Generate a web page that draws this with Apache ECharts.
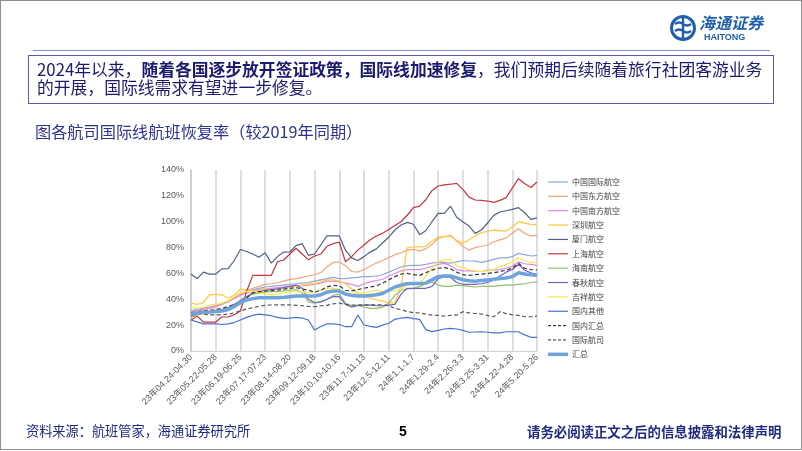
<!DOCTYPE html>
<html><head><meta charset="utf-8">
<script src="https://cdn.jsdelivr.net/npm/echarts@6/dist/echarts.min.js"></script>
<style>
html,body{margin:0;padding:0;width:802px;height:451px;overflow:hidden;background:#fff;font-family:"Noto Sans CJK SC",sans-serif;}
#chart{position:absolute;left:0;top:0;width:802px;height:451px;}
.abs{position:absolute;white-space:nowrap;}
</style></head><body>
<div id="chart"></div>
<div class="abs" style="left:0;top:0;width:800px;height:448px;border:1px solid #8f8f8f;"></div>
<svg class="abs" style="left:669px;top:14px" width="28" height="28" viewBox="0 0 28 28">
  <circle cx="14" cy="14" r="11.5" fill="none" stroke="#1f5fae" stroke-width="3"/>
  <path d="M14 3 V25 M6 10 Q10 7 14 10 Q18 13 22 10 M6 17 Q10 14 14 17 Q18 20 22 17" fill="none" stroke="#1f5fae" stroke-width="2.4"/>
</svg>
<div class="abs" style="left:699px;top:13px;font-size:16px;font-weight:bold;font-style:italic;color:#1f5fae;line-height:18px;">海通证券</div>
<div class="abs" style="left:704px;top:32px;font-size:9px;font-weight:bold;color:#1f5fae;font-family:'Liberation Sans',Arial;line-height:10px;">HAITONG</div>
<div class="abs" style="left:33px;top:50px;width:737px;height:0;border-top:1.5px solid #8a8ac8;"></div>
<div class="abs" style="left:28px;top:55px;width:744px;height:47px;border:1.5px solid #5a5aa8;"></div>
<div class="abs" style="left:37px;top:60px;font-size:16.8px;line-height:19px;color:#1a1a70;">2024年以来，<b>随着各国逐步放开签证政策，国际线加速修复</b>，我们预期后续随着旅行社团客游业务</div>
<div class="abs" style="left:37px;top:78px;font-size:16.8px;line-height:19px;color:#1a1a70;">的开展，国际线需求有望进一步修复。</div>
<div class="abs" style="left:35px;top:122px;font-size:16.2px;line-height:19px;color:#2e3390;">图各航司国际线航班恢复率（较2019年同期）</div>
<div class="abs" style="left:26px;top:423px;font-size:13.2px;line-height:16px;color:#1f2a80;">资料来源：航班管家，海通证券研究所</div>
<div class="abs" style="left:399px;top:423px;font-size:14px;line-height:16px;font-weight:bold;color:#000;font-family:'Liberation Sans',Arial;">5</div>
<div class="abs" style="left:527px;top:423px;font-size:13.4px;line-height:16px;font-weight:bold;color:#1f2a80;">请务必阅读正文之后的信息披露和法律声明</div>
<script>
const weeks = ['23年04.24-04.30','23年05.01-05.07','23年05.08-05.14','23年05.15-05.21','23年05.22-05.28','23年05.29-06.04','23年06.05-06.11','23年06.12-06.18','23年06.19-06.25','23年06.26-07.02','23年07.03-07.09','23年07.10-07.16','23年07.17-07.23','23年07.24-07.30','23年07.31-08.06','23年08.07-08.13','23年08.14-08.20','23年08.21-08.27','23年08.28-09.03','23年09.04-09.10','23年09.12-09.18','23年09.19-09.25','23年09.26-10.02','23年10.03-10.09','23年10.10-10.16','23年10.17-10.23','23年10.24-10.30','23年10.31-11.06','23年11.7-11.13','23年11.14-11.20','23年11.21-11.27','23年11.28-12.4','23年12.5-12.11','23年12.12-12.18','23年12.19-12.25','23年12.26-12.31','24年1.1-1.7','24年1.8-1.14','24年1.15-1.21','24年1.22-1.28','24年1.29-2.4','24年2.5-2.11','24年2.12-2.18','24年2.19-2.25','24年2.26-3.3','24年3.4-3.10','24年3.11-3.17','24年3.18-3.24','24年3.25-3.31','24年4.1-4.7','24年4.8-4.14','24年4.15-4.21','24年4.22-4.28','24年4.29-5.5','24年5.6-5.12','24年5.13-5.19','24年5.20-5.26'];
const yTicks = [0,20,40,60,80,100,120,140];
const names = ['中国国际航空','中国东方航空','中国南方航空','深圳航空','厦门航空','上海航空','海南航空','春秋航空','吉祥航空','国内其他','国内汇总','国际航司','汇总'];
const airChina = [31,32.5,33,34,35,36.5,38.5,41,44,46,47.5,48.5,49.5,50,50.5,51,51.5,52,52.5,53,54,55,56,57,56,56,56.5,57,57.5,57.5,58,59,61,63,65,66,66.3,66.3,67,68,68.8,68.5,68,69,70,69.6,69.5,68.5,69.5,70.9,72,72,73,75.5,74.5,73.5,74];
const chinaEastern = [30,31,32,33,34,36,38,41,44,47,48.5,50,51.5,52,52.8,54,55.4,56,57,58,59,60.6,65,68.5,68.8,66,61.5,61,63,65.5,68,70,72.2,74.5,76,78,78.6,77.5,79,82.5,87,88.5,89.5,85,81,78,80,81,82,84.5,86,87.5,91,94.6,91,89,89.5];
const chinaSouthern = [30,31.5,32.5,33.5,35,36.5,38.5,40.5,43,45,46.5,47.5,48,48.5,49,49.5,50,50.5,50.5,51,51.5,52.5,54,54,53.5,52.5,51.5,50,52,53.5,54.5,55.5,58,60,62,63,63,63,64,65.5,67,67.8,66,63,62,61.9,61.5,61.5,62.5,62.6,63,64,65.5,68.8,67.5,67,66.3];
const shenzhen = [37,36,37.5,43.5,43.8,43.5,41,43,48,47,46,47,48,47.5,48,48.5,49,50,51,52,52,53.5,55,55,54,52,48,45,43,41,39.5,38.5,37.5,37,50,80,80.5,80.5,81,85,88,88.5,89,85.5,83.3,86,89,91.5,92.5,93.6,93,92.8,96,100,99,98,97.5];
const xiamen = [59.3,56,61,59.5,59.5,63.5,63.7,70,78.5,77,75,72.5,76,68,73,76.5,76.6,81.5,83,74,75,82,89,89,89,78,72,70,73,76.5,79,83.5,88,93.6,97.5,99.5,98,90,93,100,106.5,106.5,112,103.5,100,96.7,91,93.6,99,104.9,107.5,108.5,109.6,110.9,107,101.8,103];
const shanghai = [23.7,27,22.4,22.4,22.4,26.3,26.3,28,31,46,58.5,58.5,58.5,58.5,69,70.4,75,79.5,75,70.5,73.5,75,81,83,84.3,69,73,78,82,86,89,91,94,97,100,105,110.9,112,117,124,127.6,128.5,129,129.7,125,119,116.8,116.5,116,115,116.5,118.6,126,133.3,129.5,126.5,130.7];
const hainan = [26,28,29,29.5,30,31,33,36,39,42,44,45,45.5,46,46,46.5,47,47.5,45,38,37,38,40,43,44,37,35,35.5,34,33,33,34,37,43,47,48,48.5,50,52,53.5,51,50,50,51,50.5,50,49.5,50,50,50,50.5,51,51,51.5,52,53,53.5];
const springAir = [27,29,30,30.5,31,32,33.5,36,39,42,45,46,47,47.5,48,49,50,51,48.5,40,37.5,38,40,42,42,36,34,35,35.5,35.5,35,35,35.5,36,44,48.5,48.5,48.5,48.5,50,56,57.5,57,53,51.6,51.6,51.6,52,53,55,58,61,63,67,62.5,60.5,59.3];
const juneyao = [34,33,34,35.5,36,37,39,42,45,46,46.5,45,44,43.5,44,45,46,46,45.5,45,45.5,47,48.5,48.5,48,45,44,44.5,45,46,47,46,46,46.5,48,51,51.5,52,58,64,69,70.5,70.9,66,64.5,63,62,61.5,62,63,65,67,69,72.2,70,68.5,68.3];
const domesticOther = [24,22.5,21,21,21,20.5,21,22,24,26,27.5,28.5,28,27.3,26,25.3,25.5,26,25.5,24,16.2,19,21,21,20.5,18.8,18.8,27.8,20.1,19,18.3,20,21.5,24.5,25.5,26,25,24.5,16.5,15,16,17,17.5,17,16,14.5,14.7,14.9,14.5,14,14,14.9,14.9,14.9,12.5,10.6,10.6];
const domesticTotal = [29.5,30.5,31,31.5,32,33,34.5,36,37,41,45,45.8,46.4,46.7,47,47.8,48.5,49,48,47,45.5,47,49.5,50.8,50.5,47,46.5,47.5,48.5,49.5,50.3,52.5,55,57.5,59.5,60,59,58.5,60.5,62.6,64,64.5,63.5,61,59,58.5,59,59.5,60,60.5,61.5,62.5,64,67.8,64,63,62.6];
const foreignCarriers = [30,29,28.5,28,28,28,28.5,29.5,31,32.5,33.5,34.5,35.3,35.6,35.6,35.6,35.6,35.3,35,34.5,34.3,35,35.3,36.5,37,36,35.5,35.6,35.6,35.8,35.6,35.6,35,33,32,30.5,29.6,29.5,28.5,27.8,27.5,27,27.5,27.8,30.4,29.5,29,28.6,27.5,26.5,30.4,29,28,27.5,26.5,26.5,27];
const total = [28.5,29.5,30,30.2,30.5,31,32,34.5,37.5,39.5,40.5,41.2,41.2,41.2,41.2,41.5,42,42.5,42.5,42.5,42.5,43.5,45.5,46.4,46.4,44,43,42.5,42.5,43,43.5,44.5,47,49.5,51,52,52.3,52.3,52.5,55,57.5,58,58,56.5,55,54.3,54,54.5,55,55.5,56,56.5,57.5,60.5,59.5,59,58.5];

const seriesData = [airChina, chinaEastern, chinaSouthern, shenzhen, xiamen, shanghai, hainan, springAir, juneyao, domesticOther, domesticTotal, foreignCarriers, total];
const styles = [
  {c:'#8eaadb', w:1.2}, {c:'#f2a57a', w:1.2}, {c:'#e08be8', w:1.2}, {c:'#ffcb47', w:1.3},
  {c:'#4f6283', w:1.2}, {c:'#c9343f', w:1.2}, {c:'#8fc06e', w:1.2}, {c:'#7361c7', w:1.2},
  {c:'#f5ea55', w:1.3}, {c:'#4d6fcf', w:1.2}, {c:'#3a3a3a', w:1.2, d:true}, {c:'#5a5a4a', w:1.2, d:true},
  {c:'#6fa3dc', w:3.5}
];
const legendLayout = {x:548, y:182, len:20, gap:14.36, textX:572};
const legendGraphics = [];
names.forEach((n,i)=>{
  const y = legendLayout.y + i*legendLayout.gap;
  legendGraphics.push({type:'line', silent:true, shape:{x1:legendLayout.x, y1:y, x2:legendLayout.x+legendLayout.len, y2:y},
    style:{stroke:styles[i].c, lineWidth:styles[i].w, lineDash: styles[i].d ? [3,2] : null}});
  legendGraphics.push({type:'text', silent:true, x:legendLayout.textX, y:y,
    style:{text:n, fontSize:8, fill:'#404040', fontFamily:'Noto Sans CJK SC', verticalAlign:'middle', align:'left'}});
});
const chart = echarts.init(document.getElementById('chart'), null, {renderer:'canvas'});
chart.setOption({
  animation:false,
  backgroundColor:'transparent',
  grid:{left:191, top:170, width:346, height:181, containLabel:false},
  graphic: legendGraphics,
  xAxis:{type:'category', data:weeks, boundaryGap:false,
    axisLine:{show:true, lineStyle:{color:'#d0d0d0', width:1}},
    axisTick:{show:false},
    axisLabel:{interval:3, rotate:45, fontSize:9, color:'#595959', margin:5, fontFamily:'Liberation Sans, Noto Sans CJK SC'},
    splitLine:{show:true, interval:3, lineStyle:{color:'#d3d3d3', width:1.5}}},
  yAxis:{type:'value', min:yTicks[0], max:yTicks[yTicks.length-1], interval:20,
    axisLine:{show:true, lineStyle:{color:'#c8c8c8', width:1.5}},
    axisTick:{show:false}, splitLine:{show:false},
    axisLabel:{formatter:'{value}%', fontSize:9, color:'#595959', margin:7, fontFamily:'Liberation Sans, Arial'}},
  series: names.map((n,i)=>({
    name:n, type:'line', data:seriesData[i], symbol:'none', smooth:false,
    lineStyle:{color:styles[i].c, width:styles[i].w, type: styles[i].d ? [4,2.5] : 'solid'},
    itemStyle:{color:styles[i].c}, emphasis:{disabled:true}
  }))
});
</script>
</body></html>
